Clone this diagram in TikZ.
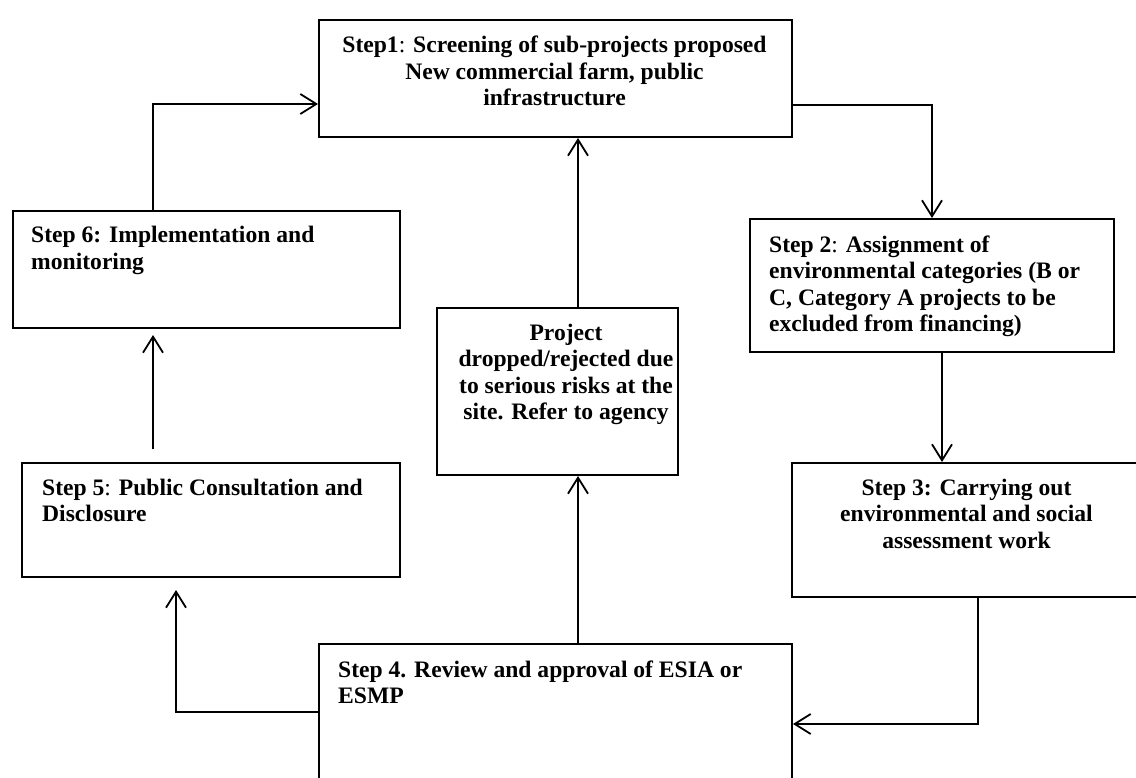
\documentclass[tikz,border=0pt]{standalone}
\usepackage{fontspec}
\setmainfont{Liberation Serif}
\usetikzlibrary{arrows.meta}
\begin{document}
\begin{tikzpicture}[x=1pt,y=-1pt,
  box/.style={draw, line width=2pt, anchor=north west, inner sep=0pt},
  txt/.style={inner sep=0pt, font=\fontsize{23.6pt}{26.5pt}\selectfont\bfseries},
  txtl/.style={txt, align=left, anchor=base west},
  txtc/.style={txt, align=center, anchor=base},
  conn/.style={line width=1.8pt, -{Straight Barb[length=16pt,width=20pt,line width=1.8pt]}}]
\useasboundingbox (0,0) rectangle (1136,778);
\clip (0,0) rectangle (1136,778);
\fill[white] (0,0) rectangle (1136,778);
% boxes
\node[box, minimum width=473pt, minimum height=117pt] (s1) at (318,19) {};
\node[box, minimum width=364pt, minimum height=133pt] (s2) at (749,218) {};
\node[box, minimum width=351pt, minimum height=134pt] (s3) at (791,462) {};
\node[box, minimum width=473pt, minimum height=157pt] (s4) at (318,643) {};
\node[box, minimum width=378pt, minimum height=114pt] (s5) at (21,462) {};
\node[box, minimum width=387pt, minimum height=117pt] (s6) at (12,210) {};
\node[box, minimum width=241pt, minimum height=167pt] (dr) at (436,307) {};
% texts (anchor = baseline of the last line)
\node[txtc] (t1) at (554.5,106) {Step1{\mdseries:} Screening of sub-projects proposed\\New commercial farm, public\\infrastructure};
\node[txtl] (t2) at (769,331.5) {Step 2{\mdseries:} Assignment of\\environmental categories (B or\\C, Category A projects to be\\excluded from financing)};
\node[txtc] (t3) at (966.5,548) {Step 3: Carrying out\\environmental and social\\assessment work};
\node[txtl] (t4) at (338,703.5) {Step 4. Review and approval of ESIA or\\ESMP};
\node[txtl] (t5) at (42,521.5) {Step 5{\mdseries:} Public Consultation and\\Disclosure};
\node[txtl] (t6) at (31,269.5) {Step 6: Implementation and\\monitoring};
\node[txtc] (td) at (566,419.5) {Project\\dropped/rejected due\\to serious risks at the\\site. Refer to agency};
% connector coordinates
\coordinate (p61) at (153,104);
\coordinate (p12) at (932,105);
\coordinate (p23) at (942,0);
\coordinate (p34) at (978,724);
\coordinate (p45) at (176,712);
\coordinate (p56) at (153,0);
\coordinate (p4d) at (578,0);
% connectors
\draw[conn] (s6.north -| p61) |- (s1.west |- p61);
\draw[conn] (s1.east |- p12) -| (s2.north -| p12);
\draw[conn] (s2.south -| p23) -- (s3.north -| p23);
\draw[conn] (s3.south -| p34) |- (s4.east |- p34);
\draw[conn, shorten >=12pt] (s4.west |- p45) -| (s5.south -| p45);
\draw[conn, shorten <=13pt, shorten >=6pt] (s5.north -| p56) -- (s6.south -| p56);
\draw[conn] (s4.north -| p4d) -- (dr.south -| p4d);
\draw[conn] (dr.north -| p4d) -- (s1.south -| p4d);
\end{tikzpicture}
\end{document}
